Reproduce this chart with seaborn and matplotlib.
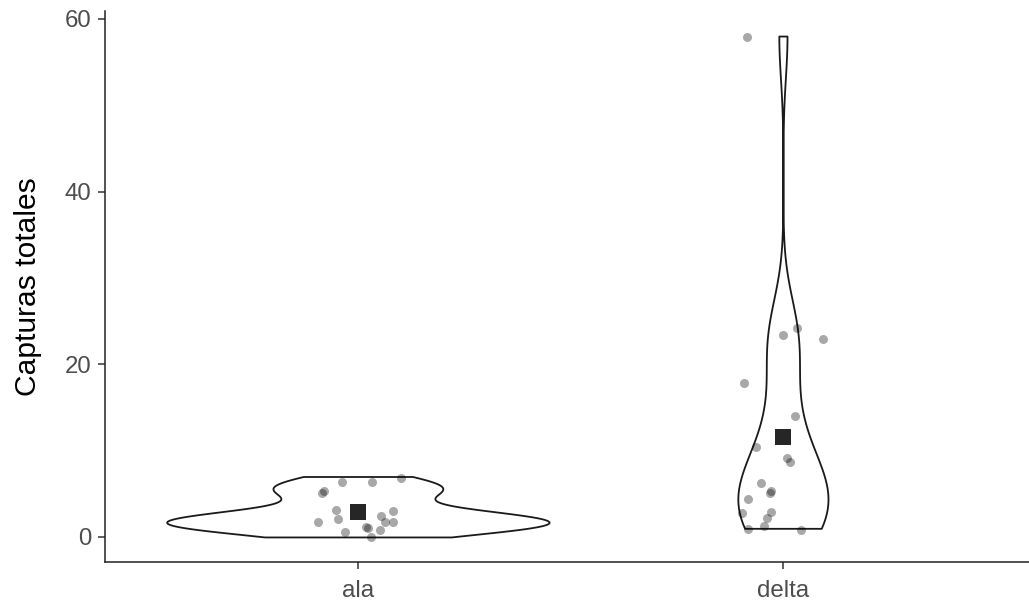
import numpy as np
import pandas as pd
import matplotlib
matplotlib.use("Agg")
import matplotlib.pyplot as plt
import seaborn as sns

# ---- data ----
trampas = ["ala", "delta"]

ala_capturas = [6, 6, 7, 5, 5, 3, 2, 2, 2, 3, 2, 2, 1, 1, 1, 1, 0]
ala_jit_x = [-0.038, 0.033, 0.101, -0.085, -0.080, -0.052, -0.094, -0.047, 0.054,
             0.082, 0.064, 0.082, 0.052, -0.031, 0.019, 0.024, 0.031]
ala_jit_y = [0.4, 0.4, -0.2, 0.1, 0.3, 0.1, -0.3, 0.1, 0.4, 0.0, -0.3, -0.3,
             -0.2, -0.4, 0.2, 0.0, 0.0]

delta_capturas = [58, 24, 23, 23, 18, 14, 10, 9, 9, 6, 5, 5, 4, 3, 3, 2, 1, 1, 1]
delta_jit_x = [-0.085, 0.033, 0.0, 0.094, -0.092, 0.028, -0.064, 0.009, 0.016,
               -0.052, -0.031, -0.028, -0.082, -0.096, -0.028, -0.038, -0.045,
               -0.082, 0.042]
delta_jit_y = [-0.1, 0.2, 0.4, -0.1, -0.2, 0.0, 0.4, 0.1, -0.3, 0.3, 0.1, 0.3,
               0.4, -0.2, -0.1, 0.2, 0.3, -0.1, -0.2]

y_ticks = [0, 20, 40, 60]
y_label = "Capturas totales"

# ---- tables ----
df = pd.DataFrame({
    "trampa": [trampas[0]] * len(ala_capturas) + [trampas[1]] * len(delta_capturas),
    "capturas": ala_capturas + delta_capturas,
})
pts = pd.DataFrame({
    "x": [0 + d for d in ala_jit_x] + [1 + d for d in delta_jit_x],
    "y": [v + d for v, d in zip(ala_capturas, ala_jit_y)]
         + [v + d for v, d in zip(delta_capturas, delta_jit_y)],
})


def nrd0(kde):
    d = np.asarray(kde.dataset).ravel()
    sd = d.std(ddof=1)
    q75, q25 = np.percentile(d, [75, 25])
    lo = min(sd, (q75 - q25) / 1.34)
    bw = 0.9 * lo * len(d) ** (-0.2)
    return bw / sd


sns.set_theme(style="white")
plt.rcParams["font.family"] = ["Liberation Sans", "DejaVu Sans"]

fig = plt.figure(figsize=(10.29, 6.07), dpi=100)
ax = fig.add_axes([105 / 1029, 45 / 607, (1029 - 105) / 1029, (562 - 11) / 607])

sns.violinplot(data=df, x="trampa", y="capturas", order=trampas, cut=0,
               density_norm="area", bw_method=nrd0, inner=None, width=0.9,
               color="white", saturation=1, linecolor="#1a1a1a", linewidth=1.3,
               ax=ax)
sns.scatterplot(data=pts, x="x", y="y", color="black", alpha=0.34, s=42,
                linewidth=0, ax=ax, zorder=3)
sns.pointplot(data=df, x="trampa", y="capturas", order=trampas,
              estimator="mean", errorbar=None, linestyle="none", marker="s",
              markersize=11.5, markeredgewidth=0, color="#262626", ax=ax,
              zorder=4)

ax.set_xlim(-0.595, 1.579)
ax.set_ylim(-2.9, 60.9)
ax.set_yticks(y_ticks)
ax.set_xticks([0, 1])
ax.set_xticklabels(trampas)
ax.set_xlabel("")
ax.set_ylabel(y_label, fontsize=21.6, color="black", labelpad=16)

for s in ["top", "right"]:
    ax.spines[s].set_visible(False)
for s in ["left", "bottom"]:
    ax.spines[s].set_color("#222222")
    ax.spines[s].set_linewidth(1.1)

ax.tick_params(axis="both", which="major", length=5, width=1.1, color="#333333",
               labelcolor="#4d4d4d", labelsize=17.3, pad=5)
ax.tick_params(axis="x", pad=8)
ax.tick_params(axis="y", left=True, bottom=False)
ax.tick_params(axis="x", bottom=True)

fig.savefig("out.png", dpi=100)
